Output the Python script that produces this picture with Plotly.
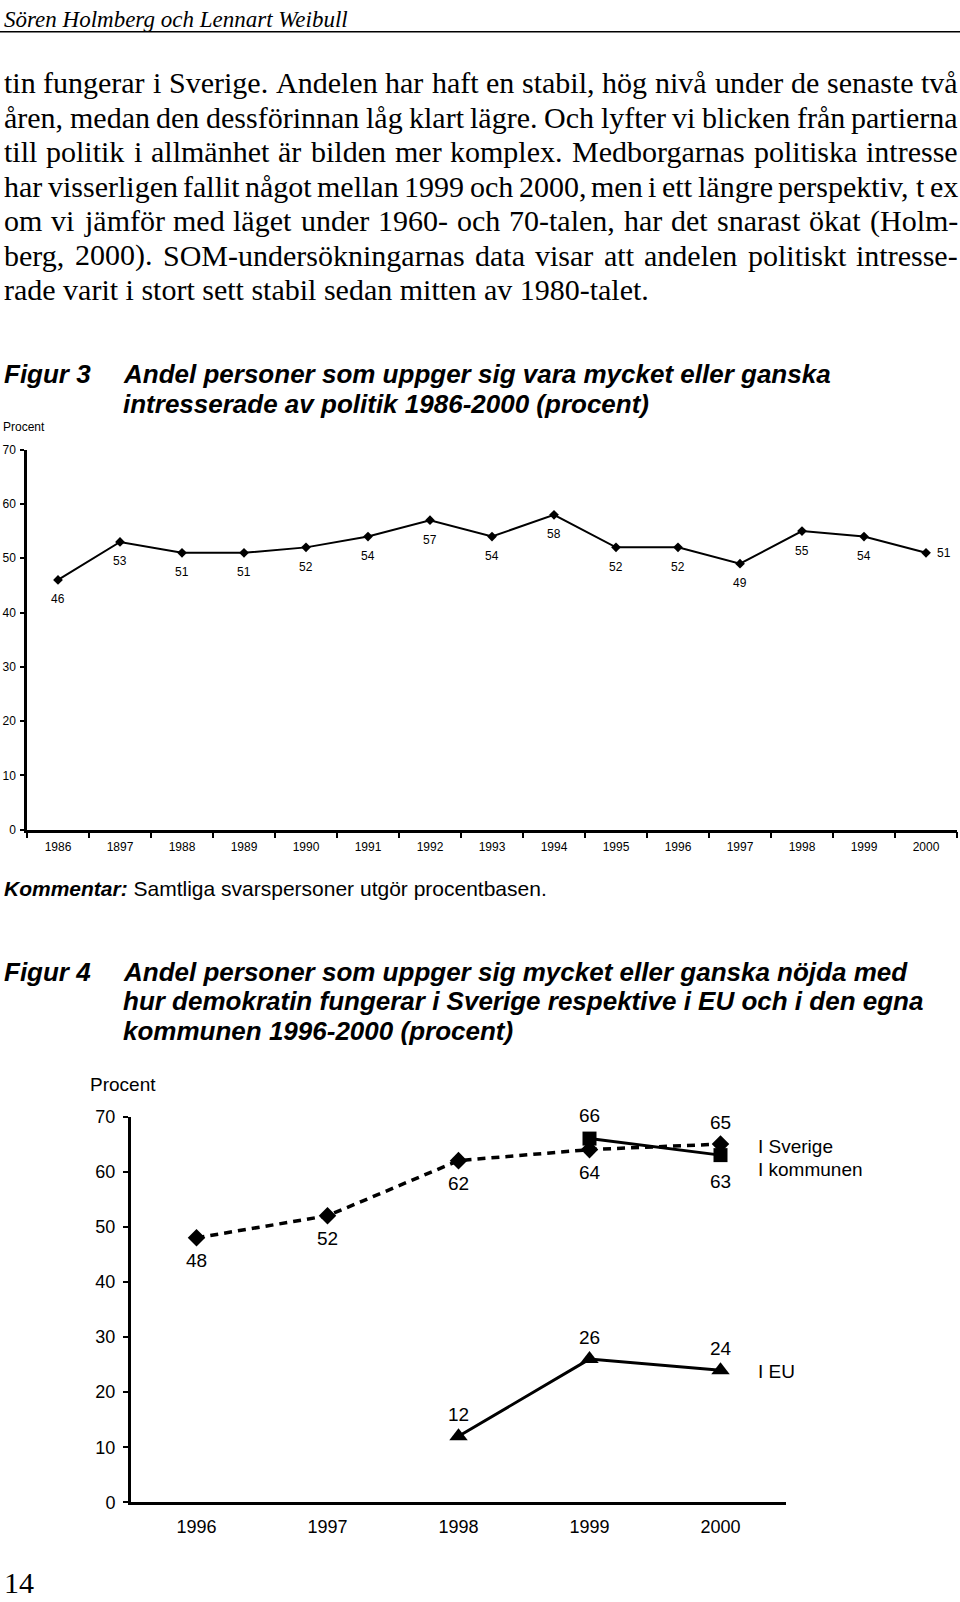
import plotly.graph_objects as go

W, H = 960, 1602
SERIF = 'Liberation Serif, Times New Roman, serif'
SANS = 'Liberation Sans, Arial, sans-serif'

# --- data ---------------------------------------------------------------
# Figur 3 (the "1897" tick is printed like that in the original)
years3 = ['1986', '1897', '1988', '1989', '1990', '1991', '1992', '1993',
          '1994', '1995', '1996', '1997', '1998', '1999', '2000']
intresse = [46, 53, 51, 51, 52, 54, 57, 54, 58, 52, 52, 49, 55, 54, 51]

# Figur 4
years4 = ['1996', '1997', '1998', '1999', '2000']
sverige = [48, 52, 62, 64, 65]
kommunen_years = ['1999', '2000']
kommunen = [66, 63]
eu_years = ['1998', '1999', '2000']
eu = [12, 26, 24]

y_ticks = [0, 10, 20, 30, 40, 50, 60, 70]

body_lines = [
    'tin fungerar i Sverige. Andelen har haft en stabil, hög nivå under de senaste två',
    'åren, medan den dessförinnan låg klart lägre. Och lyfter vi blicken från partierna',
    'till politik i allmänhet är bilden mer komplex. Medborgarnas politiska intresse',
    'har visserligen fallit något mellan 1999 och 2000, men i ett längre perspektiv, t ex',
    'om vi jämför med läget under 1960- och 70-talen, har det snarast ökat (Holm-',
    'berg, 2000). SOM-undersökningarnas data visar att andelen politiskt intresse-',
    'rade varit i stort sett stabil sedan mitten av 1980-talet.',
]

fig3_title = ['Andel personer som uppger sig vara mycket eller ganska',
              'intresserade av politik 1986-2000 (procent)']
fig4_title = ['Andel personer som uppger sig mycket eller ganska nöjda med',
              'hur demokratin fungerar i Sverige respektive i EU och i den egna',
              'kommunen 1996-2000 (procent)']


# --- helpers ------------------------------------------------------------
def px(x):
    return x / W


def vpos(y):
    # the capture adds a little room above/below the page; pre-correct for it
    return min(max((0.979 * y - 10) / 0.967, 9.5), 1592)


def py(y):
    return 1 - vpos(y) / H


annotations = []


def add_text(text, x, y, size, family=SANS, anchor='left'):
    annotations.append(dict(
        text=text, x=px(x), y=py(y), xref='paper', yref='paper',
        xanchor=anchor, yanchor='middle', showarrow=False, borderpad=0,
        font=dict(size=size, family=family, color='black')))


# Times / Liberation Serif advance widths (1/1000 em), used to justify lines
TIMES = dict(zip('abcdefghijklmnopqrstuvwxyz',
                 [444, 500, 444, 500, 444, 333, 500, 500, 278, 278, 500, 278, 778,
                  500, 500, 500, 500, 333, 389, 278, 500, 500, 722, 500, 500, 444]))
TIMES.update(zip('ABCDEFGHIJKLMNOPQRSTUVWXYZ',
                 [722, 667, 667, 722, 611, 556, 722, 722, 333, 389, 722, 611, 889,
                  722, 722, 556, 722, 667, 556, 611, 722, 722, 944, 722, 722, 611]))
TIMES.update({'å': 444, 'ä': 444, 'ö': 500, 'Å': 722, 'Ä': 722, 'Ö': 722,
              ' ': 250, ',': 250, '.': 250, '-': 333, '(': 333, ')': 333, ':': 278})
TIMES.update({d: 500 for d in '0123456789'})


def justify(line, y, left=3, right=957, size=30):
    words = line.split(' ')
    widths = [sum(TIMES.get(c, 500) for c in w) * size / 1000 for w in words]
    gap = (right - left - sum(widths)) / (len(words) - 1)
    x = left
    for w, wd in zip(words, widths):
        add_text(w, x, y, size, SERIF)
        x += wd + gap


# --- page text ------------------------------------------------------------
add_text('<i>Sören Holmberg och Lennart Weibull</i>', 3, 11, 23, SERIF)

for i, line in enumerate(body_lines):
    y = 83 + i * 34.5
    if i < len(body_lines) - 1:
        justify(line, y)
    else:
        add_text(line, 3, y, 30, SERIF)

add_text('<b><i>Figur 3</i></b>', 3, 374, 26)
for i, line in enumerate(fig3_title):
    add_text('<b><i>' + line + '</i></b>', 122, 374 + i * 30, 26)
add_text('Procent', 2, 427, 12)

add_text('<b><i>Kommentar:</i></b> Samtliga svarspersoner utgör procentbasen.', 3, 889, 21)

add_text('<b><i>Figur 4</i></b>', 3, 972, 26)
for i, line in enumerate(fig4_title):
    add_text('<b><i>' + line + '</i></b>', 122, 972 + i * 29.5, 26)
add_text('Procent', 89, 1085, 19)

add_text('I Sverige', 757, 1147, 19)
add_text('I kommunen', 757, 1170, 19)
add_text('I EU', 757, 1372, 19)

add_text('14', 3, 1600, 30, SERIF)

# --- traces -------------------------------------------------------------
fig = go.Figure()

fig.add_trace(go.Scatter(
    x=years3, y=intresse, mode='lines+markers', xaxis='x', yaxis='y',
    line=dict(color='black', width=2),
    marker=dict(symbol='diamond', size=7.5, color='black'),
    cliponaxis=False, hoverinfo='skip'))

fig.add_trace(go.Scatter(
    x=years4, y=sverige, mode='lines+markers', xaxis='x2', yaxis='y2',
    line=dict(color='black', width=3.5, dash='8px,6px'),
    marker=dict(symbol='diamond', size=13.5, color='black'),
    cliponaxis=False, hoverinfo='skip'))

fig.add_trace(go.Scatter(
    x=kommunen_years, y=kommunen, mode='lines+markers', xaxis='x2', yaxis='y2',
    line=dict(color='black', width=3),
    marker=dict(symbol='square', size=14, color='black'),
    cliponaxis=False, hoverinfo='skip'))

fig.add_trace(go.Scatter(
    x=eu_years, y=eu, mode='lines+markers', xaxis='x2', yaxis='y2',
    line=dict(color='black', width=3),
    marker=dict(symbol='triangle-up', size=16, color='black'),
    cliponaxis=False, hoverinfo='skip'))


# --- value labels (category axes take the serial number of the year) ------
def label(cats, x, y, ax, size, yshift=0, xshift=0, anchor='center'):
    annotations.append(dict(
        text=str(y), x=cats.index(x), y=y, xref=ax[0], yref=ax[1],
        showarrow=False, xanchor=anchor, yanchor='middle',
        xshift=xshift, yshift=yshift,
        font=dict(size=size, family=SANS, color='black')))


for i, (x, v) in enumerate(zip(years3, intresse)):
    if i == len(years3) - 1:
        label(years3, x, v, ('x', 'y'), 12, xshift=9, anchor='left')
    else:
        label(years3, x, v, ('x', 'y'), 12, yshift=-19.5)

for i, (x, v) in enumerate(zip(years4, sverige)):
    label(years4, x, v, ('x2', 'y2'), 19, yshift=22 if i == len(years4) - 1 else -23)
for i, (x, v) in enumerate(zip(kommunen_years, kommunen)):
    label(years4, x, v, ('x2', 'y2'), 19, yshift=23 if i == 0 else -26)
for x, v in zip(eu_years, eu):
    label(years4, x, v, ('x2', 'y2'), 19, yshift=22)

# --- layout -------------------------------------------------------------
axis_common = dict(showline=True, linecolor='black', showgrid=False,
                   zeroline=False, fixedrange=True, tickcolor='black')

fig.update_layout(
    width=W, height=H, margin=dict(l=0, r=0, t=0, b=0),
    paper_bgcolor='white', plot_bgcolor='white', showlegend=False,
    annotations=annotations,
    shapes=[dict(type='line', xref='paper', yref='paper', x0=0, x1=1,
                 y0=py(32), y1=py(32), line=dict(color='black', width=1.5))],
    xaxis=dict(domain=[px(27), px(957)], anchor='y', type='category',
               categoryorder='array', categoryarray=years3, range=[-0.5, 14.5],
               linewidth=2.5, ticks='outside', tickson='boundaries',
               ticklen=6, tickwidth=1.5, ticklabelstandoff=4,
               tickfont=dict(size=12, family=SANS, color='black'), **axis_common),
    yaxis=dict(domain=[py(830), py(450)], anchor='x', range=[0, 70],
               tickvals=y_ticks, linewidth=2.5, ticks='outside', ticklen=4,
               tickwidth=1.5, ticklabelstandoff=2,
               tickfont=dict(size=12, family=SANS, color='black'), **axis_common),
    xaxis2=dict(domain=[px(131), px(786)], anchor='y2', type='category',
                categoryorder='array', categoryarray=years4, range=[-0.5, 4.5],
                linewidth=3, ticks='', ticklabelstandoff=6,
                tickfont=dict(size=18, family=SANS, color='black'), **axis_common),
    yaxis2=dict(domain=[py(1503), py(1117)], anchor='x2', range=[0, 70],
                tickvals=y_ticks, linewidth=3, ticks='outside', ticklen=5,
                tickwidth=2, ticklabelstandoff=4,
                tickfont=dict(size=18, family=SANS, color='black'), **axis_common),
)

# pin the chart to the page's top-left corner and keep the page exactly W x H
fig.write_html(
    'out.html', config={'displayModeBar': False},
    post_script=("var r=document.documentElement,b=document.body;"
                 "r.style.margin=b.style.margin='0';r.style.padding=b.style.padding='0';"
                 "r.style.overflow=b.style.overflow='hidden';"
                 "r.style.height=b.style.height='" + str(H) + "px';"
                 "var d=document.getElementById('{plot_id}');"
                 "d.style.position='absolute';d.style.left='0';d.style.top='0';"))
